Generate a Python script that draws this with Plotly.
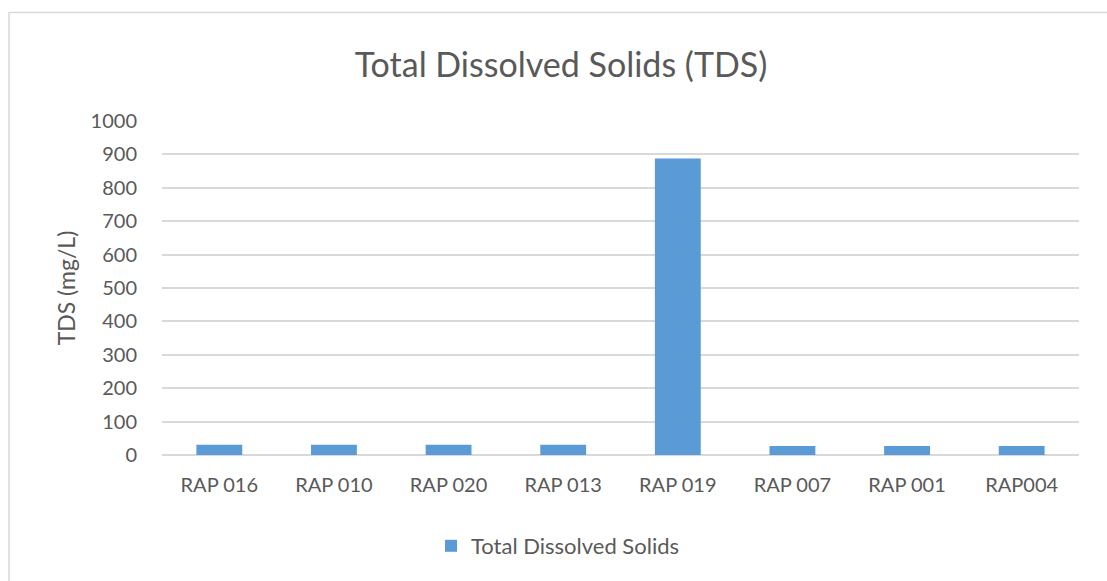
import plotly.graph_objects as go

sites = ["RAP 016", "RAP 010", "RAP 020", "RAP 013", "RAP 019", "RAP 007", "RAP 001", "RAP004"]
tds_values = [31, 31, 31, 31, 888, 27, 27, 27]
y_ticks = [0, 100, 200, 300, 400, 500, 600, 700, 800, 900, 1000]

W, H = 1107, 581
L, R, T, B = 162, 28, 121, 126
pw, ph = W - L - R, H - T - B

def px_to_paper_x(px):
    return (px - L) / pw

def px_to_paper_y(py):
    return (H - B - py) / ph

fig = go.Figure()
fig.add_trace(go.Bar(
    x=sites,
    y=tds_values,
    name="Total Dissolved Solids",
    marker=dict(color="#5B9BD5", line=dict(width=0)),
))

fig.update_layout(
    width=W,
    height=H,
    margin=dict(l=L, r=R, t=T, b=B),
    paper_bgcolor="white",
    plot_bgcolor="white",
    font=dict(family="Lato, Open Sans, sans-serif", color="#595959", size=20),
    title=dict(
        text="Total Dissolved Solids (TDS)",
        x=561 / W,
        xref="container",
        xanchor="center",
        y=1 - 65 / H,
        yref="container",
        yanchor="middle",
        font=dict(size=34, color="#595959"),
    ),
    bargap=0.6,
    showlegend=True,
    legend=dict(
        orientation="h",
        x=558 / W,
        xanchor="center",
        xref="container",
        y=1 - 546 / H,
        yref="container",
        yanchor="middle",
        font=dict(size=22, color="#595959"),
        itemwidth=30,
    ),
    xaxis=dict(
        showgrid=False,
        showline=False,
        ticks="",
        ticklabelstandoff=16,
        tickfont=dict(size=20, color="#595959"),
    ),
    yaxis=dict(
        range=[0, 1000],
        tickvals=y_ticks,
        showgrid=True,
        gridcolor="#D9D9D9",
        gridwidth=1.5,
        zeroline=True,
        zerolinecolor="#D9D9D9",
        zerolinewidth=2,
        showline=False,
        ticks="",
        ticklabelstandoff=24,
        tickfont=dict(size=20, color="#595959"),
        title=dict(text="TDS (mg/L)", font=dict(size=23, color="#595959"), standoff=8),
    ),
    shapes=[
        dict(
            type="rect",
            xref="paper",
            yref="paper",
            x0=px_to_paper_x(9),
            x1=px_to_paper_x(1115),
            y0=px_to_paper_y(590),
            y1=px_to_paper_y(12.5),
            line=dict(color="#D9D9D9", width=1.5),
            fillcolor="rgba(0,0,0,0)",
            layer="below",
        )
    ],
)

fig.write_html("out.html")
